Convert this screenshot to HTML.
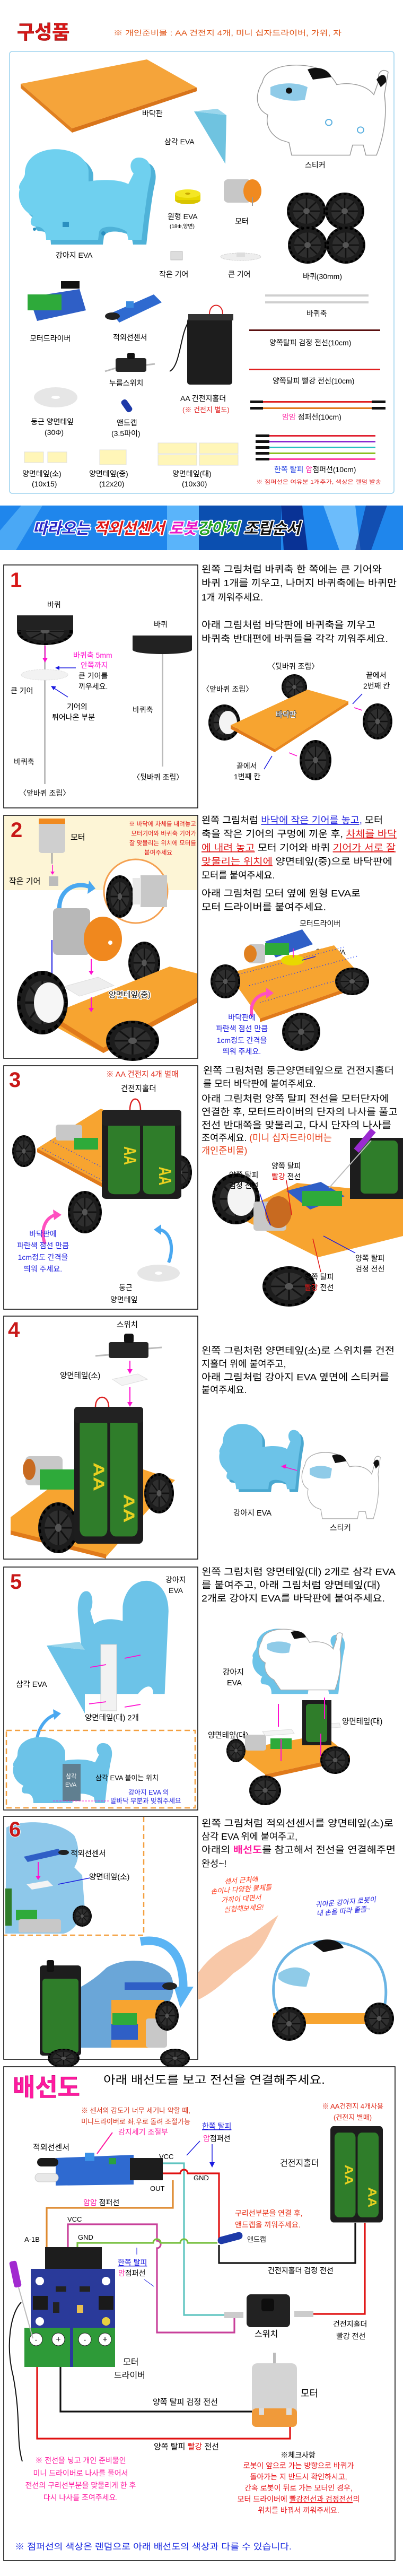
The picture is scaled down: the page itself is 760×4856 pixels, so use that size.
<!DOCTYPE html>
<html><head><meta charset="utf-8"><style>
html,body{margin:0;padding:0;background:#fff}
svg{display:block}
text{font-family:"Liberation Sans","Noto Sans CJK KR",sans-serif}
</style></head><body>
<svg width="760" height="4856" viewBox="0 0 760 4856" xmlns="http://www.w3.org/2000/svg">
<defs>
<g id="wh"><circle r="1" fill="#1c1c1c"/><circle r="0.93" fill="none" stroke="#000" stroke-width="0.12" stroke-dasharray="0.15 0.12"/><circle r="0.68" fill="#2e2e2e"/><g stroke="#111" stroke-width="0.07"><line x1="-0.68" y1="0" x2="0.68" y2="0"/><line x1="0" y1="-0.68" x2="0" y2="0.68"/><line x1="-0.48" y1="-0.48" x2="0.48" y2="0.48"/><line x1="-0.48" y1="0.48" x2="0.48" y2="-0.48"/></g><circle r="0.16" fill="#555"/></g>
<g id="dog"><path d="M20,60 C20,20 70,5 110,20 C130,28 140,45 140,55 L140,75 C170,70 200,72 215,80 L225,60 C215,50 218,30 235,30 C255,30 262,50 255,75 C250,100 248,120 245,140 L240,185 L215,185 L212,170 C200,160 165,155 160,170 L158,185 L60,185 C60,170 55,160 40,160 C30,160 28,150 35,140 C15,130 5,110 10,90 C5,80 20,70 20,60 Z"/></g>
<g id="bat"><rect x="0" y="0" width="100" height="150" rx="6" fill="#1d1d1d"/><rect x="8" y="10" width="40" height="132" rx="8" fill="#2f7d2a"/><rect x="52" y="10" width="40" height="132" rx="8" fill="#2f7d2a"/><text x="28" y="60" font-size="22" fill="#e8d020" font-weight="bold" transform="rotate(90 28 60)">AA</text><text x="72" y="95" font-size="22" fill="#e8d020" font-weight="bold" transform="rotate(90 72 95)">AA</text></g>
</defs>

<!-- ============ 구성품 ============ -->
<text x="32" y="73" font-size="36" font-weight="bold" fill="#d81818" stroke="#8a0000" stroke-width="0.6">구성품</text>
<text x="214" y="67" font-size="13.5" fill="#e0561a" textLength="430" lengthAdjust="spacingAndGlyphs">※ 개인준비물 : AA 건전지 4개, 미니 십자드라이버, 가위, 자</text>
<rect x="18" y="97" width="725" height="833" rx="5" fill="#fff" stroke="#9fd4ef" stroke-width="1.6"/>

<polygon points="39,158 277,112 371,165 136,242" fill="#f5a43a"/>
<polygon points="39,158 136,242 136,250 39,166" fill="#e08020"/>
<polygon points="136,242 371,165 371,172 136,250" fill="#d8741a"/>
<text x="268" y="219" font-size="14">바닥판</text>
<polygon points="366,210 427,217 425,309" fill="#6fc3e0"/><polygon points="366,210 427,217 410,205" fill="#9ad6ec"/>
<text x="310" y="272" font-size="14">삼각 EVA</text>
<g transform="translate(470,112) scale(1,0.95)">
<path d="M25,45 C30,15 80,5 120,15 C150,22 160,40 165,50 C190,45 220,50 235,70 L245,40 C240,30 250,15 262,25 L255,70 C260,110 255,150 240,190 L220,190 L215,170 L195,170 L190,190 L80,190 L75,165 L60,160 C40,150 30,130 35,110 C15,100 8,75 25,45 Z" fill="#fff" stroke="#999" stroke-width="1.5"/>
<path d="M110,20 C130,12 150,20 155,35 L120,40 Z" fill="#111"/>
<path d="M40,55 C60,45 90,45 110,55 L105,80 C80,85 55,80 40,70 Z" fill="#8fcbe8"/>
<circle cx="75" cy="62" r="6" fill="#111"/><path d="M240,40 C250,25 260,30 258,45 L248,55 Z" fill="#111"/>
<circle cx="150" cy="125" r="6" fill="none" stroke="#5ab0e0" stroke-width="2"/><circle cx="210" cy="140" r="6" fill="none" stroke="#5ab0e0" stroke-width="2"/>
</g>
<text x="575" y="316" font-size="14">스티커</text>
<g transform="translate(30,268) scale(1.0,1.0)" fill="#4fb2d8"><use href="#dog" transform="translate(6,8)"/></g>
<g transform="translate(27,267)" fill="#6fd0ef"><use href="#dog"/></g>
<circle cx="65" cy="432" r="3" fill="#2a8fc0"/><circle cx="195" cy="440" r="4" fill="#2a8fc0"/><rect x="118" y="418" width="12" height="10" fill="#2a8fc0"/>
<text x="105" y="486" font-size="14">강아지 EVA</text>
<ellipse cx="354" cy="377" rx="24" ry="8" fill="#d8c400"/><rect x="330" y="365" width="48" height="12" fill="#e8d800"/><ellipse cx="354" cy="365" rx="24" ry="8" fill="#f4e624"/><ellipse cx="354" cy="365" rx="5" ry="2" fill="#c8a800"/>
<text x="316" y="413" font-size="14">원형 EVA</text><text x="320" y="430" font-size="10">(18Φ,양면)</text>
<rect x="422" y="338" width="52" height="44" rx="8" fill="#c7c7c7"/><ellipse cx="476" cy="360" rx="17" ry="22" fill="#f08a20"/><line x1="476" y1="372" x2="476" y2="388" stroke="#999" stroke-width="2"/>
<text x="443" y="422" font-size="14">모터</text>
<use href="#wh" transform="translate(578,398) scale(37,35)"/><use href="#wh" transform="translate(650,398) scale(37,35)"/>
<use href="#wh" transform="translate(580,462) scale(37,35)"/><use href="#wh" transform="translate(652,462) scale(37,35)"/>
<text x="571" y="526" font-size="14">바퀴(30mm)</text>
<rect x="322" y="474" width="22" height="16" fill="#ddd" stroke="#bbb"/><text x="300" y="522" font-size="14">작은 기어</text>
<ellipse cx="454" cy="484" rx="38" ry="7" fill="#eee" stroke="#ccc" stroke-dasharray="2 1"/><rect x="446" y="476" width="16" height="8" fill="#ddd"/><text x="430" y="522" font-size="14">큰 기어</text>
<polygon points="55,560 150,545 162,585 70,605" fill="#2f5fc6"/><rect x="52" y="555" width="64" height="30" fill="#2eaa3a"/><rect x="115" y="530" width="35" height="14" fill="#111"/>
<text x="56" y="643" font-size="14">모터드라이버</text>
<polygon points="210,590 290,555 305,570 225,608" fill="#2f6ad0"/><rect x="238" y="568" width="14" height="12" fill="#3a8ae0"/><ellipse cx="212" cy="596" rx="14" ry="7" fill="#222"/>
<text x="213" y="641" font-size="14">적외선센서</text>
<rect x="218" y="675" width="58" height="26" rx="4" fill="#252525"/><rect x="240" y="665" width="14" height="12" rx="3" fill="#111"/><line x1="198" y1="700" x2="218" y2="694" stroke="#bbb" stroke-width="3"/><line x1="276" y1="688" x2="292" y2="686" stroke="#bbb" stroke-width="3"/>
<text x="206" y="727" font-size="14">누름스위치</text>
<rect x="353" y="600" width="85" height="125" rx="5" fill="#1d1d1d"/><rect x="355" y="592" width="85" height="12" fill="#333"/><path d="M395,592 C395,570 420,570 420,592" fill="none" stroke="#d22" stroke-width="2"/><path d="M355,608 C340,630 340,690 320,700" fill="none" stroke="#111" stroke-width="2"/>
<text x="340" y="756" font-size="14">AA 건전지홀더</text><text x="344" y="777" font-size="13" fill="#e02020">(※ 건전지 별도)</text>
<ellipse cx="105" cy="749" rx="41" ry="19" fill="#e6e6e6"/><ellipse cx="105" cy="749" rx="8" ry="3" fill="#fff"/>
<text x="58" y="800" font-size="14">둥근 양면테잎</text><text x="84" y="820" font-size="14">(30Φ)</text>
<rect x="233" y="752" width="12" height="26" rx="5" fill="#1e3aa8" transform="rotate(-35 239 765)"/>
<text x="220" y="802" font-size="14">앤드캡</text><text x="210" y="822" font-size="14">(3.5파이)</text>
<rect x="500" y="555" width="195" height="4" fill="#cfcfcf"/><rect x="500" y="568" width="195" height="4" fill="#cfcfcf"/>
<text x="578" y="596" font-size="14">바퀴축</text>
<rect x="470" y="621" width="247" height="3" fill="#5a0f0f"/><text x="508" y="651" font-size="14">양쪽탈피 검정 전선(10cm)</text>
<rect x="470" y="695" width="247" height="3" fill="#e02020"/><text x="514" y="723" font-size="14">양쪽탈피 빨강 전선(10cm)</text>
<rect x="472" y="755" width="24" height="5" fill="#111"/><rect x="496" y="756" width="205" height="3" fill="#e02020"/><rect x="701" y="755" width="26" height="5" fill="#111"/>
<rect x="472" y="767" width="24" height="5" fill="#111"/><rect x="496" y="768" width="205" height="3" fill="#e0781a"/><rect x="701" y="767" width="26" height="5" fill="#111"/>
<text x="532" y="791" font-size="14"><tspan fill="#ff1ea0">암암</tspan> 점퍼선(10cm)</text>
<g><rect x="482" y="819" width="26" height="5" fill="#111"/><rect x="508" y="820" width="200" height="3" fill="#e02030"/>
<rect x="482" y="830" width="26" height="5" fill="#111"/><rect x="508" y="831" width="200" height="3" fill="#8a2ad0"/>
<rect x="482" y="841" width="26" height="5" fill="#111"/><rect x="508" y="842" width="200" height="3" fill="#2ac0c0"/>
<rect x="482" y="852" width="26" height="5" fill="#111"/><rect x="508" y="853" width="200" height="3" fill="#8ac020"/>
<rect x="482" y="863" width="26" height="5" fill="#111"/><rect x="508" y="864" width="200" height="3" fill="#ff40a0"/></g>
<text x="517" y="890" font-size="14"><tspan fill="#1a3ae0">한쪽 탈피 </tspan><tspan fill="#ff1ea0">암</tspan>점퍼선(10cm)</text>
<text x="483" y="912" font-size="10" fill="#e02020" textLength="236" lengthAdjust="spacingAndGlyphs">※ 점퍼선은 여유분 1개추가, 색상은 랜덤 발송</text>
<rect x="46" y="852" width="36" height="20" fill="#fff6b8" stroke="#ddd"/><rect x="90" y="852" width="36" height="20" fill="#fff6b8" stroke="#ddd"/>
<text x="42" y="898" font-size="14">양면테잎(소)</text><text x="60" y="917" font-size="14">(10x15)</text>
<rect x="188" y="848" width="50" height="28" fill="#fff6b8" stroke="#ddd"/>
<text x="168" y="898" font-size="14">양면테잎(중)</text><text x="187" y="917" font-size="14">(12x20)</text>
<rect x="298" y="835" width="73" height="20" fill="#fff6b8" stroke="#ddd"/><rect x="376" y="835" width="73" height="20" fill="#fff6b8" stroke="#ddd"/><rect x="298" y="857" width="73" height="20" fill="#fff6b8" stroke="#ddd"/><rect x="376" y="857" width="73" height="20" fill="#fff6b8" stroke="#ddd"/>
<text x="325" y="898" font-size="14">양면테잎(대)</text><text x="343" y="917" font-size="14">(10x30)</text>

<!-- ============ banner ============ -->
<rect x="0" y="953" width="760" height="84" fill="#1f86ec"/>
<polygon points="0,1037 0,1000 40,953 80,953 30,1037" fill="#4aa8f5"/>
<rect x="315" y="953" width="60" height="84" fill="#5ab4fa"/>
<rect x="375" y="953" width="155" height="84" fill="#0b4fb0"/>
<polygon points="530,953 570,953 580,1037 535,1037" fill="#000e70" opacity=".7"/>
<polygon points="610,953 670,953 680,1037 640,1037" fill="#6cbcfb"/>
<polygon points="690,953 730,953 700,1037 670,1037" fill="#0a2a8a" opacity=".6"/>
<g font-size="29" font-weight="bold" font-style="italic" stroke="#fff" stroke-width="4" paint-order="stroke" stroke-linejoin="round">
<text x="62" y="1006"><tspan fill="#2828c8">따라오는 </tspan><tspan fill="#e01818">적외선센서 </tspan><tspan fill="#e818c8"> 로봇</tspan><tspan fill="#20a020">강아지 </tspan><tspan fill="#111"> 조립순서</tspan></text></g>

<!-- ============ step 1 ============ -->
<rect x="7" y="1065" width="366" height="458" fill="#fff" stroke="#111" stroke-width="1.6"/>
<text x="19" y="1107" font-size="40" font-weight="bold" fill="#d81818">1</text>
<text x="89" y="1145" font-size="14">바퀴</text>
<rect x="83" y="1210" width="3" height="268" fill="#bbb"/>
<use href="#wh" transform="translate(85,1190) scale(53,26)"/><rect x="32" y="1160" width="106" height="28" fill="#222"/>
<line x1="85" y1="1217" x2="85" y2="1243" stroke="#ff10d0" stroke-width="2"/><polygon points="80,1240 90,1240 85,1249" fill="#ff10d0"/>
<ellipse cx="84" cy="1272" rx="44" ry="10" fill="#f2f2f2" stroke="#ddd" stroke-dasharray="2 1"/>
<text x="138" y="1240" font-size="14" fill="#ff10d0">바퀴축 5mm</text><text x="152" y="1259" font-size="14" fill="#ff10d0">안쪽까지</text>
<text x="148" y="1279" font-size="14">큰 기어를</text><text x="148" y="1299" font-size="14">끼우세요.</text>
<line x1="143" y1="1259" x2="108" y2="1259" stroke="#1a1ae0" stroke-width="1.5"/><polygon points="104,1259 112,1255 112,1263" fill="#1a1ae0"/>
<line x1="128" y1="1314" x2="100" y2="1296" stroke="#1a1ae0" stroke-width="1.5"/><polygon points="96,1293 106,1294 101,1301" fill="#1a1ae0"/>
<text x="20" y="1307" font-size="14">큰 기어</text>
<text x="126" y="1337" font-size="14">기어의</text><text x="98" y="1357" font-size="14">튀어나온 부분</text>
<text x="26" y="1441" font-size="14">바퀴축</text>
<text x="36" y="1500" font-size="14">〈앞바퀴 조립〉</text>
<text x="290" y="1182" font-size="14">바퀴</text>
<rect x="305" y="1225" width="3" height="220" fill="#bbb"/>
<ellipse cx="306" cy="1225" rx="56" ry="8" fill="#222"/><rect x="250" y="1198" width="112" height="27" fill="#222"/>
<text x="250" y="1343" font-size="14">바퀴축</text>
<text x="250" y="1470" font-size="14">〈뒷바퀴 조립〉</text>
<text x="380" y="1079" font-size="17.5" textLength="340" lengthAdjust="spacingAndGlyphs">왼쪽 그림처럼 바퀴축 한 쪽에는 큰 기어와</text>
<text x="380" y="1105" font-size="17.5" textLength="368" lengthAdjust="spacingAndGlyphs">바퀴 1개를 끼우고, 나머지 바퀴축에는 바퀴만</text>
<text x="380" y="1132" font-size="17.5">1개 끼워주세요.</text>
<text x="380" y="1184" font-size="17.5" textLength="328" lengthAdjust="spacingAndGlyphs">아래 그림처럼 바닥판에 바퀴축을 끼우고</text>
<text x="380" y="1210" font-size="17.5" textLength="352" lengthAdjust="spacingAndGlyphs">바퀴축 반대편에 바퀴들을 각각 끼워주세요.</text>
<text x="505" y="1261" font-size="14">〈뒷바퀴 조립〉</text>
<text x="381" y="1304" font-size="14">〈앞바퀴 조립〉</text>
<text x="690" y="1278" font-size="14">끝에서</text><text x="685" y="1298" font-size="14">2번째 칸</text>
<use href="#wh" transform="translate(555,1295) scale(24,24)"/>
<use href="#wh" transform="translate(423,1362) scale(30,34)"/><ellipse cx="430" cy="1362" rx="17" ry="22" fill="#f4f4f4"/>
<polygon points="435,1367 580,1300 657,1322 518,1412" fill="#f7a430"/><polygon points="435,1367 518,1412 518,1418 435,1374" fill="#e07a1a"/><polygon points="518,1412 657,1322 657,1328 518,1418" fill="#e8881e"/>
<text x="520" y="1352" font-size="14" fill="#fff" stroke="#555" stroke-width="2" paint-order="stroke">바닥판</text>
<use href="#wh" transform="translate(712,1360) scale(28,34)"/>
<use href="#wh" transform="translate(595,1433) scale(30,38)"/>
<line x1="683" y1="1308" x2="665" y2="1327" stroke="#1a1ae0" stroke-width="1.5"/><line x1="683" y1="1339" x2="668" y2="1334" stroke="#ff10d0" stroke-width="1.5"/>
<line x1="498" y1="1450" x2="513" y2="1425" stroke="#1a1ae0" stroke-width="1.5"/><line x1="560" y1="1425" x2="545" y2="1419" stroke="#ff10d0" stroke-width="1.5"/>
<text x="446" y="1449" font-size="14">끝에서</text><text x="441" y="1469" font-size="14">1번째 칸</text>

<!-- ============ step 2 ============ -->
<rect x="7" y="1537" width="366" height="458" fill="#fff" stroke="#111" stroke-width="1.6"/>
<rect x="8" y="1538" width="364" height="140" fill="#fdf5d6"/>
<text x="20" y="1578" font-size="40" font-weight="bold" fill="#c81818">2</text>
<rect x="73" y="1548" width="50" height="60" rx="6" fill="#cfcfcf"/><rect x="73" y="1543" width="50" height="10" fill="#f08a20"/><line x1="98" y1="1608" x2="98" y2="1628" stroke="#aaa" stroke-width="3"/>
<line x1="99" y1="1630" x2="99" y2="1645" stroke="#ff10d0" stroke-width="1.5"/><polygon points="95,1643 103,1643 99,1649" fill="#ff10d0"/>
<rect x="92" y="1652" width="18" height="18" fill="#bbb"/>
<text x="133" y="1583" font-size="15">모터</text><text x="17" y="1666" font-size="15">작은 기어</text>
<g font-size="11.5" fill="#e01818" text-anchor="end"><text x="370" y="1557">※ 바닥에 차체를 내려놓고</text><text x="370" y="1575">모터기어와 바퀴축 기어가</text><text x="370" y="1593">잘 맞물리는 위치에 모터를</text><text x="325" y="1611">붙여주세요</text></g>
<circle cx="256" cy="1680" r="60" fill="#fff" stroke="#f4a050" stroke-width="3"/>
<use href="#wh" transform="translate(226,1690) scale(26,40)"/><rect x="265" y="1650" width="50" height="60" fill="#c8c8c8"/><rect x="250" y="1655" width="16" height="50" fill="#e8e8e8"/>
<path d="M112,1715 C110,1680 140,1660 170,1672" fill="none" stroke="#4aa8f0" stroke-width="8"/><polygon points="168,1660 180,1675 165,1685" fill="#4aa8f0"/>
<rect x="100" y="1712" width="70" height="88" rx="8" fill="#b8b8b8"/><ellipse cx="194" cy="1770" rx="36" ry="42" fill="#f0881e"/><circle cx="208" cy="1777" r="4" fill="#fff"/>
<line x1="98" y1="1772" x2="98" y2="1840" stroke="#1a1ae0" stroke-width="2"/><polygon points="92,1838 104,1838 98,1850" fill="#1a1ae0"/>
<line x1="172" y1="1808" x2="172" y2="1832" stroke="#ff10d0" stroke-width="2"/><polygon points="167,1830 177,1830 172,1838" fill="#ff10d0"/>
<use href="#wh" transform="translate(272,1815) scale(30,40)"/>
<polygon points="95,1912 320,1822 372,1835 372,1890 195,1985 95,1930" fill="#f7a430"/><polygon points="95,1912 195,1975 372,1880 372,1890 195,1985 95,1922" fill="#e07a1a"/>
<polygon points="120,1860 185,1842 215,1858 150,1878" fill="#eee" stroke="#ddd"/>
<line x1="172" y1="1880" x2="172" y2="1902" stroke="#ff10d0" stroke-width="2"/><polygon points="167,1900 177,1900 172,1908" fill="#ff10d0"/>
<text x="205" y="1880" font-size="15" fill="#222" stroke="#fff" stroke-width="3" paint-order="stroke">양면테잎(중)</text>
<use href="#wh" transform="translate(80,1890) scale(48,60)"/><ellipse cx="92" cy="1890" rx="28" ry="38" fill="#f6f6f6"/>
<use href="#wh" transform="translate(250,1962) scale(50,38)"/>
<text x="380" y="1552" font-size="17.5" textLength="342" lengthAdjust="spacingAndGlyphs">왼쪽 그림처럼 <tspan fill="#2020e0" text-decoration="underline">바닥에 작은 기어를 놓고,</tspan> 모터</text>
<text x="380" y="1578" font-size="17.5" textLength="368" lengthAdjust="spacingAndGlyphs">축을 작은 기어의 구멍에 끼운 후, <tspan fill="#e01818" text-decoration="underline">차체를 바닥</tspan></text>
<text x="380" y="1604" font-size="17.5" textLength="366" lengthAdjust="spacingAndGlyphs"><tspan fill="#e01818" text-decoration="underline">에 내려 놓고</tspan> 모터 기어와 바퀴 <tspan fill="#e01818" text-decoration="underline">기어가 서로 잘</tspan></text>
<text x="380" y="1630" font-size="17.5" textLength="360" lengthAdjust="spacingAndGlyphs"><tspan fill="#e01818" text-decoration="underline">맞물리는 위치에</tspan> 양면테잎(중)으로 바닥판에</text>
<text x="380" y="1656" font-size="17.5">모터를 붙여주세요.</text>
<text x="380" y="1690" font-size="17.5" textLength="300" lengthAdjust="spacingAndGlyphs">아래 그림처럼 모터 옆에 원형 EVA로</text>
<text x="380" y="1716" font-size="17.5" textLength="235" lengthAdjust="spacingAndGlyphs">모터 드라이버를 붙여주세요.</text>
<text x="565" y="1746" font-size="14">모터드라이버</text>
<text x="595" y="1800" font-size="14">원형 EVA</text>
<polygon points="430,1835 630,1782 690,1850 490,1920" fill="#f7a430"/><polygon points="490,1920 690,1850 690,1857 490,1927" fill="#e07a1a"/>
<path d="M445,1838 L650,1785 M470,1858 L675,1802 M490,1890 L680,1835" stroke="#2040ff" stroke-width="1.5" stroke-dasharray="1.5 4" fill="none"/>
<rect x="468" y="1780" width="32" height="36" rx="5" fill="#c8c8c8"/><ellipse cx="472" cy="1798" rx="12" ry="16" fill="#e08020"/>
<polygon points="500,1775 570,1752 590,1780 520,1805" fill="#2f5fc6"/><rect x="500" y="1778" width="45" height="22" fill="#2eaa3a"/>
<ellipse cx="552" cy="1810" rx="22" ry="10" fill="#e8d800"/>
<line x1="595" y1="1803" x2="570" y2="1810" stroke="#1a1ae0" stroke-width="1.5"/><line x1="553" y1="1788" x2="553" y2="1805" stroke="#ff10d0" stroke-width="1.5"/>
<use href="#wh" transform="translate(425,1850) scale(28,32)"/><use href="#wh" transform="translate(664,1850) scale(32,26)"/><use href="#wh" transform="translate(568,1945) scale(36,36)"/>
<path d="M475,1915 C470,1890 485,1875 505,1872" fill="none" stroke="#ff50c0" stroke-width="6"/><polygon points="502,1862 516,1872 502,1882" fill="#ff50c0"/>
<g font-size="14" fill="#2020e0" text-anchor="middle"><text x="456" y="1923">바닥판에</text><text x="456" y="1944">파란색 점선 만큼</text><text x="456" y="1966">1cm정도 간격을</text><text x="456" y="1987">띄워 주세요.</text></g>

<!-- ============ step 3 ============ -->
<rect x="7" y="2009" width="366" height="459" fill="#fff" stroke="#111" stroke-width="1.6"/>
<text x="17" y="2049" font-size="40" font-weight="bold" fill="#c81818">3</text>
<text x="200" y="2030" font-size="14.5" fill="#e02a1a">※ AA 건전지 4개 별매</text>
<text x="228" y="2057" font-size="14.5">건전지홀더</text>
<polygon points="70,2165 190,2090 340,2150 230,2250" fill="#f7a430"/><polygon points="70,2165 230,2250 230,2258 70,2172" fill="#e07a1a"/>
<path d="M80,2165 L230,2245 M95,2150 L240,2225" stroke="#2040ff" stroke-width="1.5" stroke-dasharray="1.5 4" fill="none"/>
<rect x="105" y="2120" width="50" height="30" rx="5" fill="#c8c8c8"/><rect x="140" y="2145" width="45" height="22" fill="#2eaa3a"/>
<use href="#wh" transform="translate(45,2170) scale(22,30)"/><use href="#wh" transform="translate(160,2285) scale(32,40)"/><use href="#wh" transform="translate(340,2210) scale(22,32)"/>
<use href="#bat" transform="translate(192,2095) scale(1.5,1.1)"/>
<rect x="192" y="2092" width="150" height="30" rx="6" fill="#222"/><path d="M245,2092 C245,2065 265,2065 265,2092" fill="none" stroke="#d22" stroke-width="2.5"/>
<path d="M85,2345 C75,2320 85,2295 105,2290" fill="none" stroke="#ff50c0" stroke-width="6"/><polygon points="100,2280 116,2290 102,2300" fill="#ff50c0"/>
<path d="M318,2380 C330,2350 320,2320 300,2318" fill="none" stroke="#4aa8f0" stroke-width="6"/><polygon points="304,2308 290,2318 304,2328" fill="#4aa8f0"/>
<g font-size="14" fill="#2020e0" text-anchor="middle"><text x="81" y="2331">바닥판에</text><text x="81" y="2353">파란색 점선 만큼</text><text x="81" y="2375">1cm정도 간격을</text><text x="81" y="2397">띄워 주세요.</text></g>
<ellipse cx="299" cy="2400" rx="40" ry="16" fill="#e6e6e6"/><ellipse cx="299" cy="2400" rx="7" ry="3" fill="#fff"/>
<text x="224" y="2432" font-size="14">둥근</text><text x="208" y="2455" font-size="14">양면테잎</text>
<text x="383" y="2024" font-size="17.5" textLength="360" lengthAdjust="spacingAndGlyphs">왼쪽 그림처럼 둥근양면테잎으로 건전지홀더</text>
<text x="383" y="2049" font-size="17.5">를 모터 바닥판에 붙여주세요.</text>
<text x="380" y="2077" font-size="17.5" textLength="354" lengthAdjust="spacingAndGlyphs">아래 그림처럼 양쪽 탈피 전선을 모터단자에</text>
<text x="380" y="2102" font-size="17.5" textLength="370" lengthAdjust="spacingAndGlyphs">연결한 후, 모터드라이버의 단자의 나사를 풀고</text>
<text x="380" y="2127" font-size="17.5" textLength="358" lengthAdjust="spacingAndGlyphs">전선 반대쪽을 맞물리고, 다시 단자의 나사를</text>
<text x="380" y="2151" font-size="17.5">조여주세요. <tspan fill="#e8401a">(미니 십자드라이버는</tspan></text>
<text x="380" y="2175" font-size="17.5" fill="#e8401a">개인준비물)</text>
<polygon points="440,2290 560,2230 760,2250 760,2330 600,2370" fill="#f7a430"/>
<use href="#wh" transform="translate(445,2260) scale(45,48)"/><ellipse cx="455" cy="2260" rx="26" ry="32" fill="#f4f4f4"/>
<use href="#wh" transform="translate(545,2425) scale(50,38)"/>
<rect x="478" y="2265" width="62" height="55" rx="6" fill="#c8c8c8"/><ellipse cx="525" cy="2285" rx="25" ry="30" fill="#c86a20"/>
<polygon points="540,2245 605,2228 650,2255 585,2280" fill="#2f5fc6"/><rect x="570" y="2245" width="75" height="28" fill="#2eaa3a"/>
<rect x="660" y="2145" width="100" height="115" fill="#1d1d1d"/><rect x="680" y="2150" width="70" height="100" rx="8" fill="#2f7d2a"/>
<line x1="700" y1="2150" x2="620" y2="2240" stroke="#bbb" stroke-width="2"/><rect x="682" y="2125" width="12" height="50" fill="#9a2ad0" transform="rotate(40 688 2150)"/>
<g font-size="14"><text x="432" y="2220">양쪽 탈피</text><text x="432" y="2240">검정 전선</text>
<text x="512" y="2203">양쪽 탈피</text><text x="512" y="2223"><tspan fill="#e01818">빨강</tspan> 전선</text>
<text x="670" y="2377">양쪽 탈피</text><text x="670" y="2397">검정 전선</text>
<text x="574" y="2412">양쪽 탈피</text><text x="574" y="2432"><tspan fill="#e01818">빨강</tspan> 전선</text></g>
<line x1="490" y1="2250" x2="510" y2="2310" stroke="#1a1ae0" stroke-width="1.5"/><line x1="540" y1="2225" x2="550" y2="2290" stroke="#e01818" stroke-width="1.5"/>
<line x1="670" y1="2362" x2="610" y2="2330" stroke="#1a1ae0" stroke-width="1.5"/><line x1="605" y1="2398" x2="590" y2="2335" stroke="#e01818" stroke-width="1.5"/>

<!-- ============ step 4 ============ -->
<rect x="7" y="2481" width="366" height="458" fill="#fff" stroke="#111" stroke-width="1.6"/>
<text x="15" y="2520" font-size="40" font-weight="bold" fill="#c81818">4</text>
<text x="220" y="2502" font-size="14.5">스위치</text>
<rect x="205" y="2530" width="75" height="30" rx="4" fill="#252525"/><rect x="234" y="2514" width="18" height="18" rx="4" fill="#111"/><line x1="180" y1="2556" x2="205" y2="2554" stroke="#bbb" stroke-width="3"/><line x1="280" y1="2542" x2="305" y2="2540" stroke="#bbb" stroke-width="3"/>
<line x1="245" y1="2565" x2="245" y2="2583" stroke="#ff10d0" stroke-width="2"/><polygon points="240,2581 250,2581 245,2590" fill="#ff10d0"/>
<polygon points="212,2600 260,2590 278,2600 230,2612" fill="#f4f4f4" stroke="#ddd"/>
<text x="113" y="2598" font-size="14.5">양면테잎(소)</text>
<line x1="245" y1="2615" x2="245" y2="2645" stroke="#ff10d0" stroke-width="2"/><polygon points="240,2643 250,2643 245,2652" fill="#ff10d0"/>
<polygon points="20,2860 180,2740 330,2790 200,2935 20,2890" fill="#f7a430"/><polygon points="20,2885 200,2930 200,2938 20,2893" fill="#e07a1a"/>
<rect x="48" y="2745" width="70" height="55" rx="8" fill="#c8c8c8"/><ellipse cx="55" cy="2770" rx="12" ry="20" fill="#c86a20"/>
<rect x="75" y="2770" width="70" height="38" fill="#2eaa3a"/>
<use href="#wh" transform="translate(110,2880) scale(38,48)"/><use href="#wh" transform="translate(300,2815) scale(28,38)"/>
<use href="#bat" transform="translate(140,2655) scale(1.3,1.7)"/>
<rect x="140" y="2652" width="130" height="30" rx="6" fill="#222"/><path d="M180,2652 C180,2628 205,2628 205,2652" fill="none" stroke="#d22" stroke-width="2.5"/>
<text x="380" y="2552" font-size="17.5" textLength="364" lengthAdjust="spacingAndGlyphs">왼쪽 그림처럼 양면테잎(소)로 스위치를 건전</text>
<text x="380" y="2577" font-size="17.5">지홀더 위에 붙여주고,</text>
<text x="380" y="2602" font-size="17.5" textLength="354" lengthAdjust="spacingAndGlyphs">아래 그림처럼 강아지 EVA 옆면에 스티커를</text>
<text x="380" y="2626" font-size="17.5">붙여주세요.</text>
<g transform="translate(410,2676) scale(0.62,0.72)" fill="#4aa8d0"><use href="#dog" transform="translate(5,5)"/></g>
<g transform="translate(408,2674) scale(0.62,0.72)" fill="#6cc3e8"><use href="#dog"/></g>
<line x1="560" y1="2772" x2="535" y2="2765" stroke="#ff10d0" stroke-width="1.5"/><polygon points="530,2764 540,2760 538,2769" fill="#ff10d0"/>
<g transform="translate(560,2730) scale(0.6,0.7)"><path d="M25,45 C30,15 80,5 120,15 C150,22 160,40 165,50 C190,45 220,50 235,70 L245,40 C240,30 250,15 262,25 L255,70 C260,110 255,150 240,190 L220,190 L215,170 L195,170 L190,190 L80,190 L75,165 L60,160 C40,150 30,130 35,110 C15,100 8,75 25,45 Z" fill="#fff" stroke="#aaa" stroke-width="2"/><path d="M110,20 C130,12 150,20 155,35 L120,40 Z" fill="#111"/><path d="M40,55 C60,45 90,45 110,55 L105,80 C80,85 55,80 40,70 Z" fill="#8fcbe8"/><path d="M240,40 C250,25 260,30 258,45 L248,55 Z" fill="#111"/></g>
<text x="440" y="2857" font-size="14.5">강아지 EVA</text><text x="622" y="2885" font-size="14.5">스티커</text>

<!-- ============ step 5 ============ -->
<rect x="7" y="2954" width="366" height="458" fill="#fff" stroke="#111" stroke-width="1.6"/>
<g transform="translate(145,2962) scale(0.72,1.25)" fill="#6cc3e8"><path d="M20,60 C20,20 70,5 110,20 C130,28 140,45 140,55 L140,75 C170,70 200,72 215,80 L225,60 C215,50 218,30 235,30 C255,30 262,50 255,75 C250,100 248,120 245,140 L240,185 L100,185 C80,170 60,170 60,185 L30,185 Z" transform="translate(260,0) scale(-1,1)"/></g>
<text x="19" y="2995" font-size="40" font-weight="bold" fill="#c81818">5</text>
<text x="312" y="2983" font-size="14">강아지</text><text x="318" y="3003" font-size="14">EVA</text>
<polygon points="88,3102 160,3110 160,3230" fill="#6cc3e8"/><polygon points="88,3102 160,3110 150,3095" fill="#9ad6ec"/>
<rect x="190" y="3100" width="30" height="125" fill="#f2f2f2" stroke="#ccc"/>
<g stroke="#ff10d0" stroke-width="1.8"><line x1="170" y1="3143" x2="200" y2="3138"/><line x1="168" y1="3212" x2="200" y2="3208"/><line x1="235" y1="3126" x2="265" y2="3120"/><line x1="235" y1="3218" x2="265" y2="3213"/></g>
<text x="30" y="3180" font-size="14.5">삼각 EVA</text>
<text x="160" y="3243" font-size="14.5">양면테잎(대) 2개</text>
<path d="M70,3300 C65,3270 80,3240 105,3232" fill="none" stroke="#4aa8f0" stroke-width="6"/><polygon points="100,3222 115,3230 102,3242" fill="#4aa8f0"/>
<rect x="12" y="3262" width="356" height="146" fill="none" stroke="#f4a040" stroke-width="2.5" stroke-dasharray="10 6"/>
<g transform="translate(18,3264) scale(0.75,0.73)" fill="#6cc3e8"><use href="#dog"/></g>
<rect x="118" y="3325" width="34" height="70" fill="#607f90"/><text x="124" y="3352" font-size="11" fill="#fff">삼각</text><text x="123" y="3368" font-size="11" fill="#fff">EVA</text>
<text x="180" y="3356" font-size="13">삼각 EVA  붙이는 위치</text>
<text x="242" y="3383" font-size="12.5" fill="#2020e0">강아지 EVA 의</text><text x="208" y="3399" font-size="12.5" fill="#2020e0">발바닥 부분과 맞춰주세요</text>
<line x1="100" y1="3395" x2="205" y2="3395" stroke="#ff10d0" stroke-dasharray="4 2"/>
<text x="380" y="2969" font-size="17.5" textLength="366" lengthAdjust="spacingAndGlyphs">왼쪽 그림처럼 양면테잎(대) 2개로 삼각 EVA</text>
<text x="380" y="2994" font-size="17.5" textLength="337" lengthAdjust="spacingAndGlyphs">를 붙여주고,  아래 그림처럼 양면테잎(대)</text>
<text x="380" y="3019" font-size="17.5" textLength="346" lengthAdjust="spacingAndGlyphs">2개로 강아지 EVA를 바닥판에 붙여주세요.</text>
<g transform="translate(470,3060) scale(0.7,0.72)" fill="#6cc3e8"><use href="#dog"/></g>
<g transform="translate(478,3064) scale(0.64,0.64)"><path d="M25,45 C30,15 80,5 120,15 C150,22 160,40 165,50 C190,45 220,50 235,70 L245,40 C240,30 250,15 262,25 L255,70 C260,110 255,150 240,190 L80,190 L60,160 C40,150 30,130 35,110 C15,100 8,75 25,45 Z" fill="#fff" stroke="#aaa" stroke-width="2"/><path d="M110,20 C130,12 150,20 155,35 L120,40 Z" fill="#111"/><path d="M40,55 C60,45 90,45 110,55 L105,80 C80,85 55,80 40,70 Z" fill="#8fcbe8"/></g>
<text x="420" y="3157" font-size="14.5">강아지</text><text x="428" y="3177" font-size="14.5">EVA</text>
<text x="645" y="3250" font-size="14.5">양면테잎(대)</text><text x="392" y="3276" font-size="14.5">양면테잎(대)</text>
<polygon points="495,3264 550,3260 555,3268 500,3272" fill="#f4f4f4" stroke="#ddd"/><polygon points="585,3252 640,3248 642,3256 587,3260" fill="#f4f4f4" stroke="#ddd"/>
<polygon points="440,3300 610,3270 660,3310 500,3345" fill="#f7a430"/><polygon points="500,3345 660,3310 660,3318 500,3353" fill="#e07a1a"/>
<rect x="570" y="3205" width="55" height="85" fill="#1d1d1d"/><rect x="577" y="3212" width="40" height="72" rx="6" fill="#2f7d2a"/>
<rect x="462" y="3270" width="40" height="30" rx="5" fill="#c8c8c8"/><rect x="510" y="3277" width="40" height="20" fill="#2eaa3a"/>
<g stroke="#ff10d0" stroke-width="2"><line x1="525" y1="3212" x2="525" y2="3255"/><line x1="612" y1="3200" x2="612" y2="3240"/><line x1="530" y1="3278" x2="530" y2="3320"/><line x1="605" y1="3268" x2="605" y2="3310"/></g>
<use href="#wh" transform="translate(445,3300) scale(18,22)"/><use href="#wh" transform="translate(500,3375) scale(30,28)"/><use href="#wh" transform="translate(632,3318) scale(28,26)"/>

<!-- ============ step 6 ============ -->
<rect x="7" y="3424" width="366" height="458" fill="#fff" stroke="#111" stroke-width="1.6"/>
<polyline points="271,3425 271,3648 8,3648" fill="none" stroke="#f4a040" stroke-width="2.5" stroke-dasharray="10 6"/>
<path d="M12,3445 C40,3430 110,3430 140,3460 C150,3480 150,3505 140,3520 L155,3535 L160,3600 C150,3620 140,3640 120,3645 L10,3645 Z" fill="#8ec8ea"/>
<polygon points="45,3500 110,3485 118,3495 52,3510" fill="#2f5fc6"/><ellipse cx="120" cy="3492" rx="10" ry="5" fill="#222"/>
<line x1="72" y1="3510" x2="72" y2="3538" stroke="#ff10d0" stroke-width="2"/><polygon points="67,3536 77,3536 72,3544" fill="#ff10d0"/>
<polygon points="50,3552 90,3545 100,3555 60,3562" fill="#f4f4f4"/>
<line x1="170" y1="3540" x2="110" y2="3552" stroke="#1a1ae0" stroke-width="1.5"/>
<text x="133" y="3499" font-size="14.5">적외선센서</text><text x="168" y="3543" font-size="14.5">양면테잎(소)</text>
<rect x="10" y="3560" width="12" height="70" fill="#2f7d2a"/><rect x="30" y="3600" width="40" height="20" fill="#2eaa3a"/><rect x="35" y="3618" width="80" height="25" rx="4" fill="#c8c8c8"/>
<use href="#wh" transform="translate(155,3612) scale(18,20)"/>
<path d="M265,3660 C320,3650 350,3690 345,3760" fill="none" stroke="#5ab4f4" stroke-width="16"/><polygon points="328,3745 365,3745 340,3785" fill="#5ab4f4"/>
<path d="M200,3710 C230,3690 290,3690 320,3720 C335,3745 325,3780 300,3790 L300,3860 L120,3860 L120,3760 C150,3750 180,3730 200,3710 Z" fill="#6aa6d8"/>
<rect x="75" y="3705" width="78" height="170" rx="6" fill="#1d1d1d"/><rect x="80" y="3730" width="68" height="140" rx="6" fill="#2f7d2a"/><rect x="88" y="3695" width="14" height="22" rx="3" fill="#111"/>
<rect x="210" y="3770" width="100" height="90" fill="#f7a430"/><rect x="210" y="3815" width="50" height="30" fill="#2f5fc6"/><rect x="212" y="3795" width="46" height="22" fill="#2eaa3a"/>
<rect x="235" y="3737" width="90" height="14" fill="#2f5fc6"/><ellipse cx="320" cy="3744" rx="14" ry="7" fill="#222"/>
<rect x="275" y="3805" width="40" height="55" rx="5" fill="#c8c8c8"/>
<use href="#wh" transform="translate(315,3800) scale(22,28)"/><use href="#wh" transform="translate(120,3880) scale(30,18)"/><use href="#wh" transform="translate(330,3880) scale(28,18)"/>
<text x="17" y="3462" font-size="40" font-weight="bold" fill="#c81818" stroke="#fff" stroke-width="2" paint-order="stroke">6</text>
<text x="380" y="3443" font-size="17.5" textLength="362" lengthAdjust="spacingAndGlyphs">왼쪽 그림처럼 적외선센서를 양면테잎(소)로</text>
<text x="380" y="3468" font-size="17.5">삼각 EVA 위에 붙여주고,</text>
<text x="380" y="3493" font-size="17.5" textLength="366" lengthAdjust="spacingAndGlyphs">아래의 <tspan fill="#ff1ea0" font-weight="bold">배선도</tspan>를 참고해서 전선을 연결해주면</text>
<text x="380" y="3519" font-size="17.5">완성~!</text>
<g font-size="13" fill="#ff3a1a" text-anchor="middle" font-style="italic"><text x="455" y="3549" transform="rotate(-4 455 3549)">센서 근처에</text><text x="455" y="3566" transform="rotate(-4 455 3566)">손이나 다양한 물체를</text><text x="455" y="3584" transform="rotate(-4 455 3584)">가까이 대면서</text><text x="460" y="3602" transform="rotate(-4 460 3602)">실험해보세요!</text></g>
<g font-size="13" fill="#1a1ae0" text-anchor="middle" font-style="italic"><text x="652" y="3590" transform="rotate(-5 652 3590)">귀여운 강아지 로봇이</text><text x="648" y="3607" transform="rotate(-5 648 3607)">내 손을 따라 졸졸~</text></g>
<path d="M373,3720 C400,3680 440,3660 470,3650 L525,3610 L505,3650 C490,3680 470,3700 440,3720 C420,3740 395,3760 373,3770 Z" fill="#f8c8a8"/>
<path d="M520,3720 C540,3660 620,3640 690,3680 C730,3700 735,3760 720,3800 L530,3800 C515,3780 512,3750 520,3720 Z" fill="#fff" stroke="#6ab4e4" stroke-width="5"/>
<path d="M590,3665 C610,3650 640,3655 648,3672 L610,3680 Z" fill="#111"/><path d="M525,3720 C545,3705 570,3705 585,3720 L578,3745 C555,3745 535,3740 525,3730 Z" fill="#8fcbe8"/>
<rect x="515" y="3795" width="225" height="20" fill="#f7a430"/>
<use href="#wh" transform="translate(545,3815) scale(32,32)"/><use href="#wh" transform="translate(715,3805) scale(28,30)"/>

<!-- ============ wiring ============ -->
<rect x="7" y="3896" width="738" height="931" fill="#fff" stroke="#111" stroke-width="1.6"/>
<text x="24" y="3951" font-size="46" font-weight="bold" fill="#ff1aa0" stroke="#c00070" stroke-width="0.6">배선도</text>
<text x="195" y="3928" font-size="21" textLength="418" lengthAdjust="spacingAndGlyphs">아래 배선도를 보고 전선을 연결해주세요.</text>
<g font-size="13" fill="#d8321a" text-anchor="middle"><text x="256" y="3983">※ 센서의 감도가 너무 세거나 약할 때,</text><text x="256" y="4004">미니드라이버로 좌,우로 돌려 조절가능</text></g>
<text x="270" y="4024" font-size="14" fill="#ff1aa0" text-anchor="middle">감지세기 조절부</text>
<g font-size="13" fill="#e02a1a" text-anchor="middle"><text x="665" y="3975">※ AA건전지 4개사용</text><text x="665" y="3996">(건전지 별매)</text></g>
<text x="381" y="4013" font-size="14" fill="#1a1ae0" text-decoration="underline">한쪽 탈피</text>
<text x="383" y="4036" font-size="14"><tspan fill="#ff1aa0">암</tspan>점퍼선</text>
<text x="62" y="4053" font-size="15">적외선센서</text>
<g fill="none" stroke-width="3.2">
<path d="M326,4110 L326,4162 L88,4162 L88,4240" stroke="#de8a30"/>
<path d="M307,4078 L347,4078 L347,4364 L425,4364" stroke="#5fc4c0"/>
<path d="M307,4097 L340,4097 A7,7 0 0 1 354,4097 L413,4097 L413,4228" stroke="#e01010"/>
<path d="M128,4240 L128,4193 L296,4193 L296,4224 A7,7 0 0 1 296,4238 L296,4397 L442,4397 L442,4368" stroke="#c8409a"/>
<path d="M146,4240 L146,4228 L289,4228 A7,7 0 0 1 303,4228 L340,4228 A7,7 0 0 1 354,4228 L410,4228" stroke="#78c040"/>
<path d="M413,4232 L413,4266 L670,4266 L670,4190" stroke="#111"/>
<path d="M688,4190 L688,4362 L582,4362" stroke="#e01010"/>
<path d="M114,4462 L114,4546 L492,4546" stroke="#111"/>
<path d="M70,4462 L70,4597 L547,4597 L547,4546" stroke="#e01010"/>
</g>
<polygon points="105,4068 252,4062 252,4118 105,4120" fill="#2f6ad0"/>
<rect x="160" y="4058" width="18" height="16" fill="#3a90e8"/><rect x="205" y="4068" width="14" height="12" fill="#2aa040"/>
<rect x="70" y="4068" width="40" height="16" rx="8" fill="#1a1a1a"/><rect x="66" y="4097" width="44" height="16" rx="8" fill="#e8e8e8" stroke="#ccc"/>
<rect x="245" y="4068" width="62" height="42" fill="#1d1d1d"/>
<line x1="212" y1="4020" x2="183" y2="4060" stroke="#ff1aa0" stroke-width="2"/>
<text x="300" y="4070" font-size="13">VCC</text><text x="365" y="4110" font-size="13">GND</text><text x="283" y="4130" font-size="13">OUT</text>
<line x1="377" y1="4036" x2="352" y2="4063" stroke="#1a1ae0" stroke-width="1.5"/><line x1="400" y1="4042" x2="400" y2="4082" stroke="#1a1ae0" stroke-width="1.5"/><polygon points="395,4076 405,4076 400,4086" fill="#1a1ae0"/>
<text x="157" y="4157" font-size="14"><tspan fill="#ff1aa0">암암</tspan> 점퍼선</text>
<text x="127" y="4188" font-size="13">VCC</text><text x="147" y="4222" font-size="13">GND</text><text x="46" y="4226" font-size="13">A-1B</text>
<text x="222" y="4270" font-size="14" fill="#1a1ae0" text-decoration="underline">한쪽 탈피</text><text x="223" y="4290" font-size="14"><tspan fill="#ff1aa0">암</tspan>점퍼선</text>
<line x1="258" y1="4237" x2="258" y2="4250" stroke="#1a1ae0"/><line x1="272" y1="4297" x2="290" y2="4310" stroke="#1a1ae0"/>
<use href="#bat" transform="translate(623,4008) scale(0.99,1.21)"/>
<text x="528" y="4083" font-size="16">건전지홀더</text>
<g font-size="14" fill="#e8321a"><text x="443" y="4177">구리선부분을 연결 후,</text><text x="443" y="4199">앤드캡을 끼워주세요.</text></g>
<rect x="410" y="4212" width="48" height="14" rx="7" fill="#1e3aa8" transform="rotate(-15 434 4219)"/>
<text x="466" y="4226" font-size="13">앤드캡</text>
<text x="505" y="4285" font-size="14">건전지홀더 검정 전선</text>
<rect x="85" y="4236" width="107" height="44" fill="#1d1d1d"/>
<rect x="58" y="4277" width="159" height="185" fill="#2a3a9a"/>
<circle cx="75" cy="4300" r="8" fill="#fff"/><circle cx="200" cy="4300" r="8" fill="#fff"/><circle cx="75" cy="4376" r="8" fill="#fff"/><circle cx="200" cy="4376" r="8" fill="#e8d040"/>
<rect x="62" y="4328" width="28" height="26" fill="#1a1a1a"/><rect x="186" y="4328" width="28" height="26" fill="#1a1a1a"/>
<rect x="105" y="4310" width="20" height="10" fill="#222"/><rect x="150" y="4310" width="20" height="10" fill="#222"/><rect x="100" y="4340" width="12" height="20" fill="#222"/><rect x="145" y="4345" width="12" height="15" fill="#e8c050"/>
<rect x="46" y="4388" width="86" height="74" fill="#2e9a38"/><rect x="138" y="4388" width="79" height="74" fill="#2e9a38"/>
<circle cx="68" cy="4410" r="12" fill="#fff" stroke="#222"/><circle cx="110" cy="4410" r="12" fill="#fff" stroke="#222"/><circle cx="160" cy="4410" r="12" fill="#fff" stroke="#222"/><circle cx="198" cy="4410" r="12" fill="#fff" stroke="#222"/>
<text x="68" y="4415" font-size="14" text-anchor="middle">-</text><text x="110" y="4415" font-size="16" text-anchor="middle">+</text><text x="160" y="4415" font-size="14" text-anchor="middle">-</text><text x="198" y="4415" font-size="16" text-anchor="middle">+</text>
<rect x="22" y="4262" width="14" height="50" rx="4" fill="#a22ad0" transform="rotate(-12 29 4287)"/><line x1="35" y1="4312" x2="62" y2="4408" stroke="#bbb" stroke-width="2"/>
<path d="M40,4340 C20,4360 10,4420 25,4480 C40,4560 30,4600 42,4640" fill="none" stroke="#111" stroke-width="2"/>
<text x="232" y="4458" font-size="16">모터</text><text x="215" y="4483" font-size="16">드라이버</text>
<rect x="423" y="4358" width="36" height="12" fill="#ccc"/><rect x="555" y="4356" width="36" height="12" fill="#ccc"/>
<rect x="465" y="4325" width="82" height="62" rx="8" fill="#222"/><rect x="493" y="4333" width="24" height="24" rx="5" fill="#0d0d0d"/>
<text x="480" y="4405" font-size="16">스위치</text>
<text x="628" y="4386" font-size="14">건전지홀더</text><text x="634" y="4409" font-size="14">빨강 전선</text>
<rect x="515" y="4435" width="5" height="22" fill="#bbb"/>
<rect x="475" y="4455" width="85" height="100" rx="10" fill="#d4d4d4"/>
<rect x="475" y="4540" width="85" height="35" rx="8" fill="#f09a3a"/>
<rect x="488" y="4540" width="10" height="12" fill="#ddd"/><rect x="540" y="4540" width="10" height="12" fill="#ddd"/>
<text x="567" y="4518" font-size="18">모터</text>
<text x="288" y="4533" font-size="15">양쪽 탈피 검정 전선</text>
<text x="290" y="4617" font-size="15">양쪽 탈피 <tspan fill="#e01010">빨강</tspan> 전선</text>
<g font-size="14" fill="#ff1aa0" text-anchor="middle"><text x="152" y="4643">※ 전선을 넣고 개인 준비물인</text><text x="152" y="4667">미니 드라이버로 나사를 풀어서</text><text x="152" y="4690">전선의 구리선부분을 맞물리게 한 후</text><text x="152" y="4713">다시 나사를 조여주세요.</text></g>
<text x="562" y="4633" font-size="14" text-anchor="middle">※체크사항</text>
<g font-size="14" fill="#e8141a" text-anchor="middle"><text x="563" y="4653">로봇이 앞으로 가는 방향으로 바퀴가</text><text x="563" y="4674">돌아가는 지 반드시 확인하시고,</text><text x="563" y="4695">간혹 로봇이 뒤로 가는 모터인 경우,</text><text x="563" y="4716">모터 드라이버에 <tspan text-decoration="underline">빨강전선과 검정전선</tspan>의</text><text x="563" y="4737">위치를 바꿔서 끼워주세요.</text></g>
<text x="28" y="4806" font-size="16" fill="#1a2ae0" textLength="522" lengthAdjust="spacingAndGlyphs">※ 점퍼선의 색상은 랜덤으로 아래 배선도의 색상과 다를 수 있습니다.</text>
</svg>
</body></html>
